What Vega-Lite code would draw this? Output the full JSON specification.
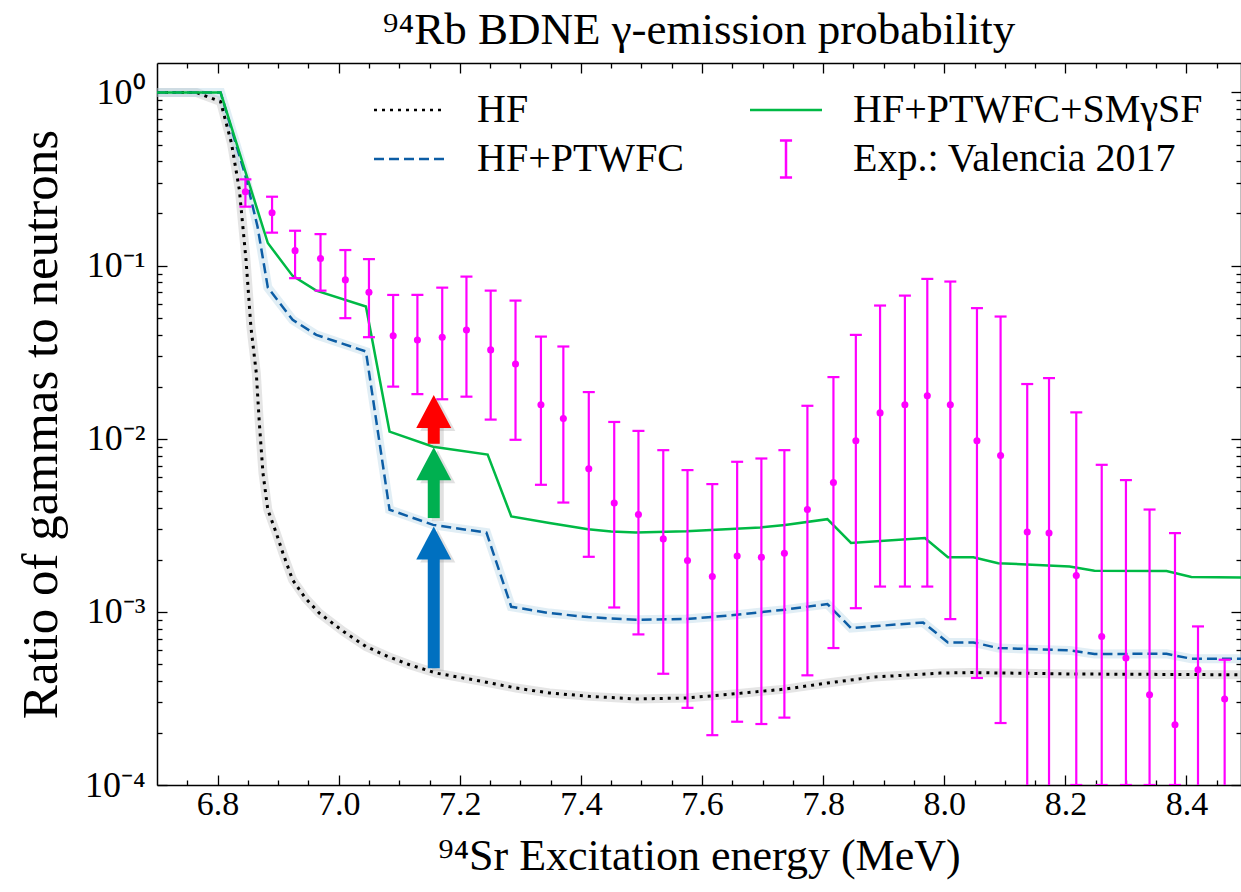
{
  "$schema": "https://vega.github.io/schema/vega-lite/v6.json",
  "autosize": {"type": "none"},
  "width": 1084,
  "height": 722,
  "padding": {"left": 157, "top": 63, "right": 0, "bottom": 107},
  "background": "white",
  "title": {"text": "⁹⁴Rb BDNE γ-emission probability", "font": "Liberation Serif", "fontSize": 45, "fontWeight": "normal", "color": "black", "anchor": "middle", "offset": 9},
  "datasets": {
    "hf": [
      {"E": 6.70, "r": 1.0}, {"E": 6.765, "r": 1.0}, {"E": 6.805, "r": 0.885}, {"E": 6.823, "r": 0.509},
      {"E": 6.836, "r": 0.274}, {"E": 6.847, "r": 0.108}, {"E": 6.855, "r": 0.0445}, {"E": 6.864, "r": 0.0239},
      {"E": 6.869, "r": 0.0123}, {"E": 6.875, "r": 0.00633}, {"E": 6.883, "r": 0.00389}, {"E": 6.897, "r": 0.00285},
      {"E": 6.908, "r": 0.00218}, {"E": 6.924, "r": 0.00153}, {"E": 6.945, "r": 0.00120}, {"E": 6.968, "r": 0.000984},
      {"E": 7.008, "r": 0.000770}, {"E": 7.045, "r": 0.000631}, {"E": 7.081, "r": 0.000553}, {"E": 7.117, "r": 0.000495},
      {"E": 7.161, "r": 0.000443}, {"E": 7.238, "r": 0.000396}, {"E": 7.293, "r": 0.000363}, {"E": 7.348, "r": 0.000340},
      {"E": 7.415, "r": 0.000325}, {"E": 7.491, "r": 0.000314}, {"E": 7.574, "r": 0.000318}, {"E": 7.657, "r": 0.000337},
      {"E": 7.737, "r": 0.000358}, {"E": 7.807, "r": 0.000388}, {"E": 7.883, "r": 0.000420}, {"E": 7.993, "r": 0.000443},
      {"E": 8.048, "r": 0.000446}, {"E": 8.207, "r": 0.000438}, {"E": 8.49, "r": 0.000433}
    ],
    "ptwfc": [
      {"E": 6.70, "r": 1.0}, {"E": 6.805, "r": 1.0}, {"E": 6.846, "r": 0.33}, {"E": 6.866, "r": 0.168},
      {"E": 6.883, "r": 0.0747}, {"E": 6.924, "r": 0.0486}, {"E": 6.963, "r": 0.0398}, {"E": 7.045, "r": 0.0319},
      {"E": 7.084, "r": 0.00389}, {"E": 7.156, "r": 0.00318}, {"E": 7.244, "r": 0.00287}, {"E": 7.285, "r": 0.00107},
      {"E": 7.348, "r": 0.000984}, {"E": 7.412, "r": 0.000933}, {"E": 7.491, "r": 0.000900}, {"E": 7.574, "r": 0.000909},
      {"E": 7.657, "r": 0.000962}, {"E": 7.737, "r": 0.00103}, {"E": 7.807, "r": 0.00111}, {"E": 7.846, "r": 0.000806},
      {"E": 7.965, "r": 0.000869}, {"E": 8.006, "r": 0.000666}, {"E": 8.048, "r": 0.000666}, {"E": 8.089, "r": 0.000618},
      {"E": 8.207, "r": 0.000599}, {"E": 8.248, "r": 0.000571}, {"E": 8.367, "r": 0.000573}, {"E": 8.408, "r": 0.000536},
      {"E": 8.49, "r": 0.000536}
    ],
    "sm": [
      {"E": 6.70, "r": 1.0}, {"E": 6.805, "r": 1.0}, {"E": 6.883, "r": 0.135}, {"E": 6.924, "r": 0.0872},
      {"E": 6.963, "r": 0.0717}, {"E": 7.045, "r": 0.058}, {"E": 7.084, "r": 0.011}, {"E": 7.156, "r": 0.0090},
      {"E": 7.246, "r": 0.0081}, {"E": 7.285, "r": 0.00356}, {"E": 7.348, "r": 0.00326}, {"E": 7.412, "r": 0.0030},
      {"E": 7.450, "r": 0.00291}, {"E": 7.491, "r": 0.00287}, {"E": 7.574, "r": 0.00292}, {"E": 7.615, "r": 0.00297},
      {"E": 7.696, "r": 0.00307}, {"E": 7.737, "r": 0.00318}, {"E": 7.807, "r": 0.00343}, {"E": 7.846, "r": 0.00250},
      {"E": 7.968, "r": 0.00267}, {"E": 8.006, "r": 0.00207}, {"E": 8.048, "r": 0.00207}, {"E": 8.089, "r": 0.00191},
      {"E": 8.207, "r": 0.00183}, {"E": 8.248, "r": 0.00173}, {"E": 8.367, "r": 0.00172}, {"E": 8.408, "r": 0.00159},
      {"E": 8.49, "r": 0.00158}
    ],
    "exp": [
      {"E": 6.846, "v": 0.267, "lo": 0.219, "hi": 0.315},
      {"E": 6.890, "v": 0.202, "lo": 0.155, "hi": 0.250},
      {"E": 6.928, "v": 0.122, "lo": 0.0846, "hi": 0.159},
      {"E": 6.970, "v": 0.110, "lo": 0.0717, "hi": 0.152},
      {"E": 7.011, "v": 0.0827, "lo": 0.0497, "hi": 0.123},
      {"E": 7.050, "v": 0.0702, "lo": 0.0386, "hi": 0.109},
      {"E": 7.090, "v": 0.0393, "lo": 0.0200, "hi": 0.0677},
      {"E": 7.130, "v": 0.0372, "lo": 0.0181, "hi": 0.0677},
      {"E": 7.171, "v": 0.0386, "lo": 0.0169, "hi": 0.0746},
      {"E": 7.211, "v": 0.0425, "lo": 0.0175, "hi": 0.0864},
      {"E": 7.251, "v": 0.0326, "lo": 0.0129, "hi": 0.0717},
      {"E": 7.292, "v": 0.0270, "lo": 0.00986, "hi": 0.0628},
      {"E": 7.334, "v": 0.0157, "lo": 0.00542, "hi": 0.0389},
      {"E": 7.371, "v": 0.0131, "lo": 0.00428, "hi": 0.0341},
      {"E": 7.413, "v": 0.0067, "lo": 0.00208, "hi": 0.0186},
      {"E": 7.455, "v": 0.00425, "lo": 0.00106, "hi": 0.0125},
      {"E": 7.495, "v": 0.00365, "lo": 0.000741, "hi": 0.0111},
      {"E": 7.536, "v": 0.00264, "lo": 0.000439, "hi": 0.00859},
      {"E": 7.576, "v": 0.00198, "lo": 0.000279, "hi": 0.00659},
      {"E": 7.617, "v": 0.00160, "lo": 0.000194, "hi": 0.00547},
      {"E": 7.658, "v": 0.00210, "lo": 0.000232, "hi": 0.00736},
      {"E": 7.698, "v": 0.00207, "lo": 0.000225, "hi": 0.00769},
      {"E": 7.736, "v": 0.00218, "lo": 0.000245, "hi": 0.00859},
      {"E": 7.774, "v": 0.00390, "lo": 0.000430, "hi": 0.0155},
      {"E": 7.817, "v": 0.00559, "lo": 0.000618, "hi": 0.0227},
      {"E": 7.854, "v": 0.00973, "lo": 0.00105, "hi": 0.0398},
      {"E": 7.894, "v": 0.0141, "lo": 0.00140, "hi": 0.0588},
      {"E": 7.935, "v": 0.0157, "lo": 0.00140, "hi": 0.0671},
      {"E": 7.972, "v": 0.0177, "lo": 0.00140, "hi": 0.0838},
      {"E": 8.010, "v": 0.0157, "lo": 0.000908, "hi": 0.0809},
      {"E": 8.054, "v": 0.00973, "lo": 0.000415, "hi": 0.0568},
      {"E": 8.093, "v": 0.00800, "lo": 0.000228, "hi": 0.0508},
      {"E": 8.137, "v": 0.00289, "lo": 0.00005, "hi": 0.0207},
      {"E": 8.173, "v": 0.00285, "lo": 0.00005, "hi": 0.0224},
      {"E": 8.218, "v": 0.00162, "lo": 0.0001, "hi": 0.0142},
      {"E": 8.260, "v": 0.000721, "lo": 0.0001, "hi": 0.00707},
      {"E": 8.300, "v": 0.000541, "lo": 0.0001, "hi": 0.00577},
      {"E": 8.339, "v": 0.000332, "lo": 0.0001, "hi": 0.00390},
      {"E": 8.381, "v": 0.000223, "lo": 0.0001, "hi": 0.00285},
      {"E": 8.419, "v": 0.000463, "lo": 0.00005, "hi": 0.000824},
      {"E": 8.463, "v": 0.000314, "lo": 0.00005, "hi": 0.000529}
    ],
    "arrows": [
      {"E": 7.157, "c": "blue", "base": 0.000473, "head": 0.00215, "tip": 0.00311},
      {"E": 7.157, "c": "green", "base": 0.00348, "head": 0.00600, "tip": 0.00894},
      {"E": 7.157, "c": "red", "base": 0.00935, "head": 0.0122, "tip": 0.0179}
    ]
  },
  "resolve": {"axis": {"x": "independent", "y": "independent"}},
  "layer": [
    {
      "data": {"name": "hf"},
      "mark": {"type": "line", "color": "#b5b5b5", "opacity": 0.35, "strokeWidth": 9, "clip": true},
      "encoding": {
        "x": {"field": "E", "type": "quantitative", "scale": {"domain": [6.7, 8.49], "nice": false, "zero": false}, "axis": null},
        "y": {"field": "r", "type": "quantitative", "scale": {"type": "log", "domain": [0.0001, 1.48], "nice": false}, "axis": null}
      }
    },
    {
      "data": {"name": "ptwfc"},
      "mark": {"type": "line", "color": "#9cc6df", "opacity": 0.3, "strokeWidth": 9, "clip": true},
      "encoding": {
        "x": {"field": "E", "type": "quantitative", "scale": {"domain": [6.7, 8.49], "nice": false, "zero": false}, "axis": null},
        "y": {"field": "r", "type": "quantitative", "scale": {"type": "log", "domain": [0.0001, 1.48], "nice": false}, "axis": null}
      }
    },
    {
      "data": {"name": "hf"},
      "mark": {"type": "line", "color": "black", "strokeWidth": 3, "strokeDash": [3, 5], "clip": true},
      "encoding": {
        "x": {"field": "E", "type": "quantitative", "scale": {"domain": [6.7, 8.49], "nice": false, "zero": false}, "axis": null},
        "y": {"field": "r", "type": "quantitative", "scale": {"type": "log", "domain": [0.0001, 1.48], "nice": false}, "axis": null}
      }
    },
    {
      "data": {"name": "ptwfc"},
      "mark": {"type": "line", "color": "#0C5DA5", "strokeWidth": 2.5, "strokeDash": [10, 5], "clip": true},
      "encoding": {
        "x": {"field": "E", "type": "quantitative", "scale": {"domain": [6.7, 8.49], "nice": false, "zero": false},
          "axis": {"orient": "top", "values": [6.75,6.8,6.85,6.9,6.95,7,7.05,7.1,7.15,7.2,7.25,7.3,7.35,7.4,7.45,7.5,7.55,7.6,7.65,7.7,7.75,7.8,7.85,7.9,7.95,8,8.05,8.1,8.15,8.2,8.25,8.3,8.35,8.4,8.45],
            "labels": false, "title": null, "domainColor": "black", "domainWidth": 1.5, "tickColor": "black", "tickWidth": 1.3,
            "tickSize": {"condition": {"test": "abs(datum.value*5-round(datum.value*5))<0.001", "value": -10}, "value": -5}}},
        "y": {"field": "r", "type": "quantitative", "scale": {"type": "log", "domain": [0.0001, 1.48], "nice": false},
          "axis": {"orient": "right", "values": [0.0001,0.0002,0.0003,0.0004,0.0005,0.0006,0.0007,0.0008,0.0009,0.001,0.002,0.003,0.004,0.005,0.006,0.007,0.008,0.009,0.01,0.02,0.03,0.04,0.05,0.06,0.07,0.08,0.09,0.1,0.2,0.3,0.4,0.5,0.6,0.7,0.8,0.9,1],
            "labels": false, "title": null, "domainColor": "black", "domainWidth": 1.5, "tickColor": "black", "tickWidth": 1.3,
            "tickSize": {"condition": {"test": "abs(log(datum.value)/LN10-round(log(datum.value)/LN10))<0.001", "value": -10}, "value": -5}}}
      }
    },
    {
      "data": {"name": "sm"},
      "mark": {"type": "line", "color": "#00B945", "strokeWidth": 2.5, "clip": true},
      "encoding": {
        "x": {"field": "E", "type": "quantitative", "scale": {"domain": [6.7, 8.49], "nice": false, "zero": false},
          "axis": {"orient": "bottom", "values": [6.75,6.8,6.85,6.9,6.95,7,7.05,7.1,7.15,7.2,7.25,7.3,7.35,7.4,7.45,7.5,7.55,7.6,7.65,7.7,7.75,7.8,7.85,7.9,7.95,8,8.05,8.1,8.15,8.2,8.25,8.3,8.35,8.4,8.45],
            "labelExpr": "abs(datum.value*5-round(datum.value*5))<0.001 ? format(datum.value, '.1f') : ''",
            "labelOverlap": false, "labelFlush": false, "labelFont": "Liberation Serif", "labelFontSize": 34, "labelColor": "black", "labelPadding": 12,
            "title": "⁹⁴Sr Excitation energy (MeV)", "titleFont": "Liberation Serif", "titleFontSize": 44, "titleFontWeight": "normal", "titleColor": "black", "titlePadding": 8,
            "domainColor": "black", "domainWidth": 1.5, "tickColor": "black", "tickWidth": 1.3,
            "tickSize": {"condition": {"test": "abs(datum.value*5-round(datum.value*5))<0.001", "value": -10}, "value": -5}}},
        "y": {"field": "r", "type": "quantitative", "scale": {"type": "log", "domain": [0.0001, 1.48], "nice": false},
          "axis": {"orient": "left", "values": [0.0001,0.0002,0.0003,0.0004,0.0005,0.0006,0.0007,0.0008,0.0009,0.001,0.002,0.003,0.004,0.005,0.006,0.007,0.008,0.009,0.01,0.02,0.03,0.04,0.05,0.06,0.07,0.08,0.09,0.1,0.2,0.3,0.4,0.5,0.6,0.7,0.8,0.9,1],
            "labelExpr": "abs(log(datum.value)/LN10-round(log(datum.value)/LN10))<0.001 ? (round(log(datum.value)/LN10)==0 ? '10⁰' : '10⁻' + ['','¹','²','³','⁴'][-round(log(datum.value)/LN10)]) : ''",
            "labelOverlap": false, "labelFlush": false, "labelFont": "Liberation Serif", "labelFontSize": 36, "labelColor": "black", "labelPadding": 22,
            "title": "Ratio of gammas to neutrons", "titleFont": "Liberation Serif", "titleFontSize": 51, "titleFontWeight": "normal", "titleColor": "black", "titlePadding": 17,
            "domainColor": "black", "domainWidth": 1.5, "tickColor": "black", "tickWidth": 1.3,
            "tickSize": {"condition": {"test": "abs(log(datum.value)/LN10-round(log(datum.value)/LN10))<0.001", "value": -10}, "value": -5}}}
      }
    },
    {
      "data": {"name": "exp"},
      "mark": {"type": "rule", "color": "#FF00FF", "strokeWidth": 2.2, "clip": true},
      "encoding": {
        "x": {"field": "E", "type": "quantitative", "scale": {"domain": [6.7, 8.49], "nice": false, "zero": false}, "axis": null},
        "y": {"field": "lo", "type": "quantitative", "scale": {"type": "log", "domain": [0.0001, 1.48], "nice": false}, "axis": null},
        "y2": {"field": "hi"}
      }
    },
    {
      "data": {"name": "exp"},
      "mark": {"type": "tick", "orient": "horizontal", "color": "#FF00FF", "size": 12, "thickness": 2.2, "opacity": 1, "clip": true},
      "encoding": {
        "x": {"field": "E", "type": "quantitative", "scale": {"domain": [6.7, 8.49], "nice": false, "zero": false}, "axis": null},
        "y": {"field": "hi", "type": "quantitative", "scale": {"type": "log", "domain": [0.0001, 1.48], "nice": false}, "axis": null}
      }
    },
    {
      "data": {"name": "exp"},
      "mark": {"type": "tick", "orient": "horizontal", "color": "#FF00FF", "size": 12, "thickness": 2.2, "opacity": 1, "clip": true},
      "encoding": {
        "x": {"field": "E", "type": "quantitative", "scale": {"domain": [6.7, 8.49], "nice": false, "zero": false}, "axis": null},
        "y": {"field": "lo", "type": "quantitative", "scale": {"type": "log", "domain": [0.0001, 1.48], "nice": false}, "axis": null}
      }
    },
    {
      "data": {"name": "exp"},
      "mark": {"type": "circle", "color": "#FF00FF", "size": 50, "opacity": 1, "clip": true},
      "encoding": {
        "x": {"field": "E", "type": "quantitative", "scale": {"domain": [6.7, 8.49], "nice": false, "zero": false}, "axis": null},
        "y": {"field": "v", "type": "quantitative", "scale": {"type": "log", "domain": [0.0001, 1.48], "nice": false}, "axis": null}
      }
    },
    {
      "data": {"name": "arrows"},
      "mark": {"type": "rule", "strokeWidth": 12, "xOffset": 4, "yOffset": 3, "color": "#888888", "opacity": 0.25},
      "encoding": {
        "x": {"field": "E", "type": "quantitative", "scale": {"domain": [6.7, 8.49], "nice": false, "zero": false}, "axis": null},
        "y": {"field": "base", "type": "quantitative", "scale": {"type": "log", "domain": [0.0001, 1.48], "nice": false}, "axis": null},
        "y2": {"field": "head"}
      }
    },
    {
      "data": {"name": "arrows"},
      "mark": {"type": "point", "shape": "M0,0L1,1.886L-1,1.886Z", "size": 1225, "filled": true, "xOffset": 4, "yOffset": 3, "color": "#888888", "opacity": 0.25},
      "encoding": {
        "x": {"field": "E", "type": "quantitative", "scale": {"domain": [6.7, 8.49], "nice": false, "zero": false}, "axis": null},
        "y": {"field": "tip", "type": "quantitative", "scale": {"type": "log", "domain": [0.0001, 1.48], "nice": false}, "axis": null}
      }
    },
    {
      "data": {"name": "arrows"},
      "mark": {"type": "rule", "strokeWidth": 12},
      "encoding": {
        "x": {"field": "E", "type": "quantitative", "scale": {"domain": [6.7, 8.49], "nice": false, "zero": false}, "axis": null},
        "y": {"field": "base", "type": "quantitative", "scale": {"type": "log", "domain": [0.0001, 1.48], "nice": false}, "axis": null},
        "y2": {"field": "head"},
        "stroke": {"field": "c", "type": "nominal", "scale": {"domain": ["blue", "green", "red"], "range": ["#0070C0", "#00B050", "#FF0000"]}, "legend": null}
      }
    },
    {
      "data": {"name": "arrows"},
      "mark": {"type": "point", "shape": "M0,0L1,1.886L-1,1.886Z", "size": 1225, "filled": true, "opacity": 1, "strokeWidth": 0},
      "encoding": {
        "x": {"field": "E", "type": "quantitative", "scale": {"domain": [6.7, 8.49], "nice": false, "zero": false}, "axis": null},
        "y": {"field": "tip", "type": "quantitative", "scale": {"type": "log", "domain": [0.0001, 1.48], "nice": false}, "axis": null},
        "fill": {"field": "c", "type": "nominal", "scale": {"domain": ["blue", "green", "red"], "range": ["#0070C0", "#00B050", "#FF0000"]}, "legend": null}
      }
    },
    {
      "data": {"values": []},
      "mark": {"type": "point", "filled": false, "size": 2025, "strokeWidth": 2.5, "opacity": 1},
      "encoding": {
        "color": {"field": "s", "type": "nominal",
          "scale": {"domain": ["HF", "HF+PTWFC", "HF+PTWFC+SMγSF", "Exp.: Valencia 2017"], "range": ["black", "#0C5DA5", "#00B945", "#FF00FF"]},
          "legend": {"orient": "none", "legendX": 229, "legendY": 23, "columns": 2, "title": null, "labelFont": "Liberation Serif", "labelFontSize": 40, "labelColor": "black", "labelLimit": 1000, "labelOffset": 43, "symbolSize": 2025, "symbolStrokeWidth": 2.5, "symbolFillColor": "transparent", "columnPadding": 60, "rowPadding": 5, "padding": 0}},
        "shape": {"field": "s", "type": "nominal",
          "scale": {"domain": ["HF", "HF+PTWFC", "HF+PTWFC+SMγSF", "Exp.: Valencia 2017"], "range": ["M-1.6,0L1.6,0", "M-1.6,0L1.6,0", "M-1.6,0L1.6,0", "M-0.27,-0.82L0.27,-0.82M0,-0.82L0,0.82M-0.27,0.82L0.27,0.82"]}},
        "strokeDash": {"field": "s", "type": "nominal",
          "scale": {"domain": ["HF", "HF+PTWFC", "HF+PTWFC+SMγSF", "Exp.: Valencia 2017"], "range": [[3, 5], [10, 5], [1, 0], [1, 0]]}}
      }
    }
  ],
  "config": {
    "view": {"stroke": null},
    "font": "Liberation Serif",
    "axis": {"grid": false}
  }
}
